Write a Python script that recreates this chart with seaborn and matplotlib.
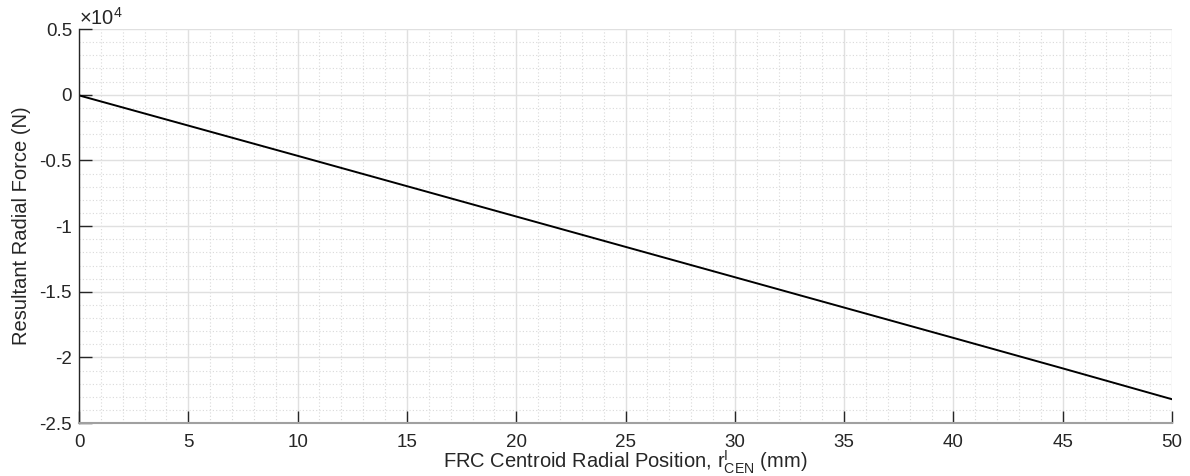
import matplotlib
matplotlib.use("Agg")
import matplotlib.pyplot as plt
import seaborn as sns
import pandas as pd
import numpy as np
from matplotlib.ticker import MultipleLocator, FuncFormatter

# Data
r_cen_mm = [0, 5, 10, 15, 20, 25, 30, 35, 40, 45, 50]
force_N = [-50, -2350, -4650, -6960, -9270, -11580, -13890, -16200, -18510, -20830, -23180]

x_ticks = [0, 5, 10, 15, 20, 25, 30, 35, 40, 45, 50]
y_ticks = [0.5, 0, -0.5, -1, -1.5, -2, -2.5]

sns.set_theme(style="white")
plt.rcParams['font.family'] = ['Liberation Sans', 'DejaVu Sans']
plt.rcParams['mathtext.fontset'] = 'custom'
plt.rcParams['mathtext.rm'] = 'Liberation Sans'
plt.rcParams['mathtext.it'] = 'Liberation Sans'

df = pd.DataFrame({"x": r_cen_mm, "y": np.array(force_N) / 1e4})

fig = plt.figure(figsize=(11.9, 4.76), dpi=100)
ax = fig.add_axes([0.0664, 0.111, 0.9185, 0.828])

sns.lineplot(data=df, x="x", y="y", ax=ax, color="black", linewidth=1.4)

ax.set_xlim(0, 50)
ax.set_ylim(-2.5, 0.5)
ax.set_xticks(x_ticks)
ax.set_yticks(y_ticks)
ax.yaxis.set_major_formatter(FuncFormatter(lambda v, p: "0" if abs(v) < 1e-9 else f"{v:g}"))
ax.xaxis.set_minor_locator(MultipleLocator(1))
ax.yaxis.set_minor_locator(MultipleLocator(0.1))

ax.grid(which="major", color="#e0e0e0", linewidth=1.0, linestyle="-")
ax.grid(which="minor", color="#d9d9d9", linewidth=0.8, linestyle=(0, (1, 2)))
ax.set_axisbelow(True)

txt = "#262626"
ax.tick_params(which="major", direction="in", length=9, width=1, colors=txt,
               labelsize=13.5, pad=5, bottom=True, left=True, top=False, right=False)
ax.tick_params(axis="x", which="major", pad=8)
ax.tick_params(which="minor", length=0)

for s in ["top", "right"]:
    ax.spines[s].set_visible(False)
ax.spines["left"].set_color(txt)
ax.spines["left"].set_linewidth(1.0)
ax.spines["bottom"].set_color("#a0a0a0")
ax.spines["bottom"].set_linewidth(1.5)

ax.set_xlabel(r"FRC Centroid Radial Position, $\mathregular{r^{I}_{CEN}}$ (mm)",
              fontsize=14.5, color=txt, labelpad=-2)
ax.set_ylabel("Resultant Radial Force (N)", fontsize=14.5, color=txt, labelpad=6)

ax.text(0.0, 1.0, r"$\times\mathregular{10^{4}}$", transform=ax.transAxes,
        fontsize=14.5, color=txt, ha="left", va="bottom")

fig.savefig("out.png", dpi=100)
